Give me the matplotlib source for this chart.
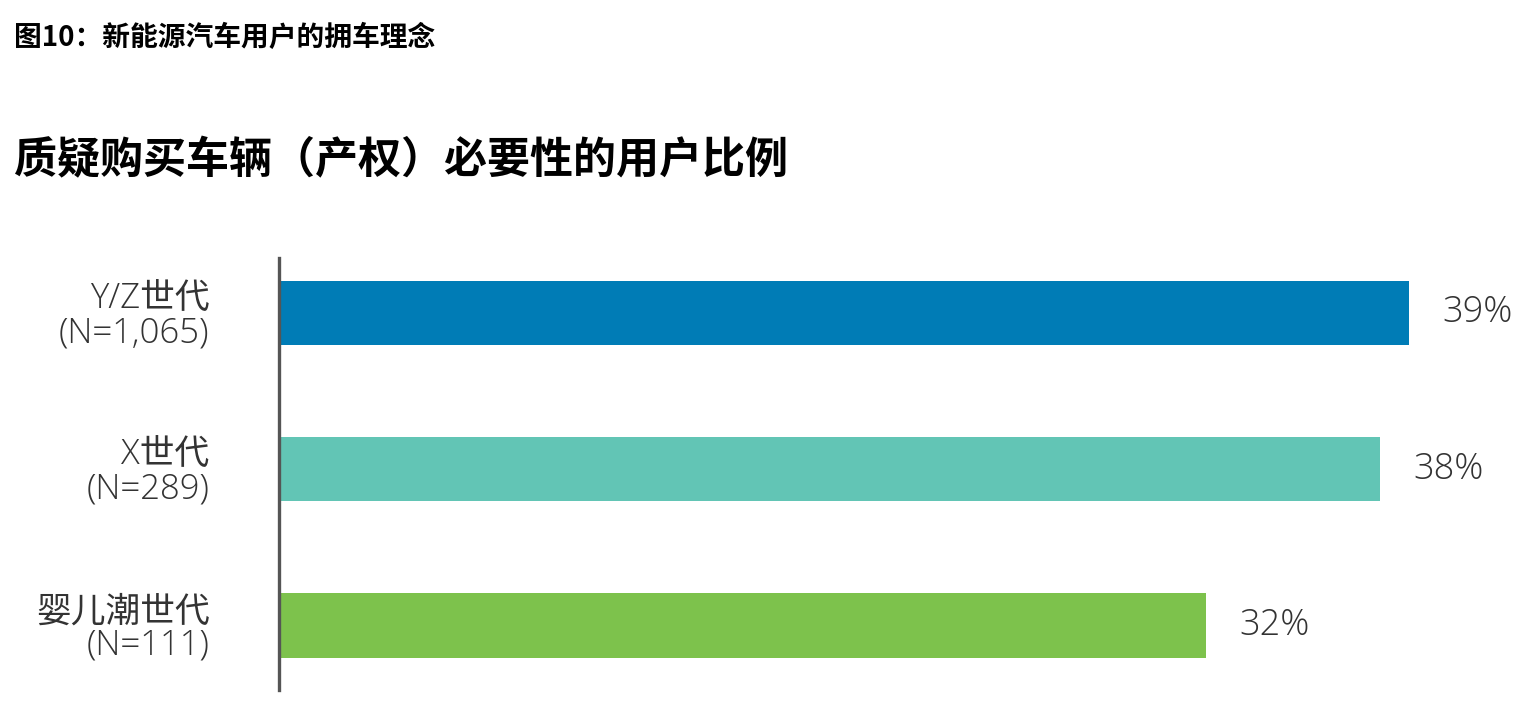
import matplotlib.pyplot as plt

# 数据
groups = ['Y/Z世代\n(N=1,065)', 'X世代\n(N=289)', '婴儿潮世代\n(N=111)']
values = [39, 38, 32]
colors = ['#007cb6', '#62c5b5', '#7dc24c']

title = '图10：新能源汽车用户的拥车理念'
subtitle = '质疑购买车辆（产权）必要性的用户比例'

plt.rcParams['font.family'] = ['Open Sans', 'Noto Sans CJK SC', 'DejaVu Sans']


def draw():
    fig = plt.figure(figsize=(15.3, 7.16), dpi=100)
    ax = fig.add_axes([279 / 1530, 1 - 690 / 716, 1251 / 1530, 432 / 716])

    pos = list(range(len(values)))
    ax.barh(pos, values, height=0.41, color=colors, edgecolor='none')
    ax.set_xlim(0, 1251 / 28.97)
    ax.set_ylim(2.413, -0.352)

    for p, v in zip(pos, values):
        ax.annotate('%d%%' % v, xy=(v, p), xytext=(24, 0), textcoords='offset points',
                    ha='left', va='center', fontsize=26, color='#333333',
                    fontweight='light')

    ax.set_yticks(pos)
    ax.set_yticklabels(groups, fontsize=25, color='#333333', fontweight='light',
                       linespacing=0.95)
    ax.tick_params(axis='y', length=0, pad=50)
    ax.set_xticks([])

    for s in ['top', 'right', 'bottom']:
        ax.spines[s].set_visible(False)
    ax.spines['left'].set_color('#555555')
    ax.spines['left'].set_linewidth(2.4)

    cjk = ['Noto Sans CJK SC', 'DejaVu Sans']
    fig.text(14 / 1530, 1 - 38 / 716, title, fontsize=20, fontweight='bold',
             family=cjk, va='center', ha='left', color='#000000')
    fig.text(14 / 1530, 1 - 160 / 716, subtitle, fontsize=31, fontweight='bold',
             family=cjk, va='center', ha='left', color='#000000')

    fig.savefig('out.png', dpi=100)


def main():
    draw()


if __name__ == '__main__':
    main()
